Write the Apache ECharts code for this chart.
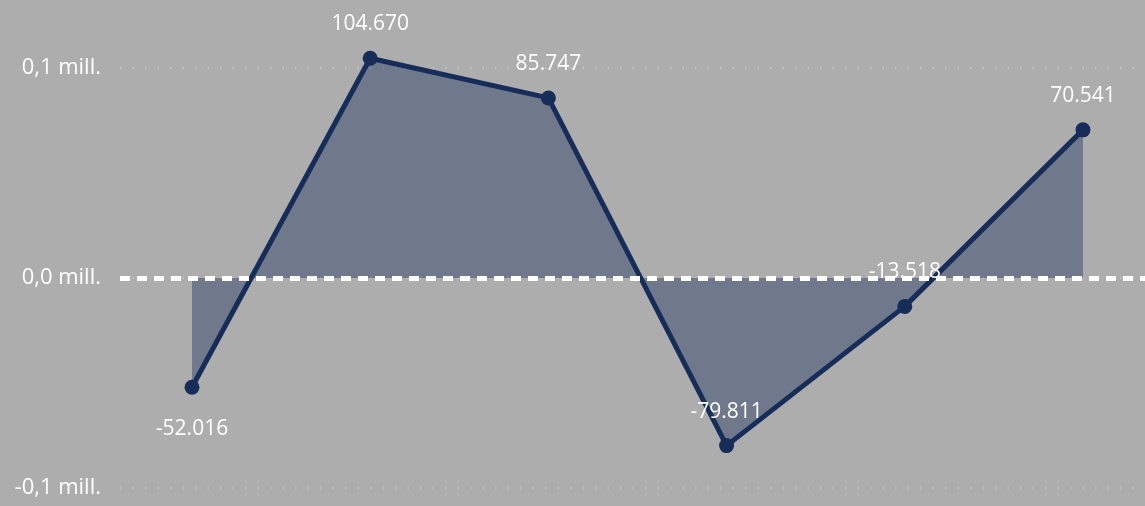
<!DOCTYPE html>
<html><head><meta charset="utf-8">
<script src="https://cdn.jsdelivr.net/npm/echarts@6/dist/echarts.min.js"></script>
<style>html,body{margin:0;padding:0;background:#adadad}#c{width:1145px;height:506px}</style>
</head><body><div id="c"></div>
<script>
const categories = ['P1','P2','P3','P4','P5','P6'];
const values = [-52016, 104670, 85747, -79811, -13518, 70541];
const labelPositions = ['bottom','top','top','top','top','top'];
const yTicks = [-100000, 0, 100000];
const yTickLabels = {'-100000':'-0,1 mill.', '0':'0,0 mill.', '100000':'0,1 mill.'};

function fmt(v){
  const s = Math.abs(v).toString().replace(/\B(?=(\d{3})+(?!\d))/g, '.');
  return (v < 0 ? '-' : '') + s;
}
const font = '"Segoe UI", "Open Sans", "Noto Sans", sans-serif';
const chart = echarts.init(document.getElementById('c'));
chart.setOption({
  backgroundColor: '#adadad',
  animation: false,
  grid: {left: 120, right: 0, top: 68, bottom: 18, containLabel: false},
  xAxis: {type: 'value', min: -0.404, max: 5.348, show: false},
  yAxis: {
    type: 'value', min: yTicks[0], max: yTicks[2], interval: 100000,
    axisLine: {show: false}, axisTick: {show: false},
    axisLabel: {color: '#ffffff', fontSize: 22, fontFamily: font, margin: 19,
      formatter: v => yTickLabels[String(v)] || ''},
    splitLine: {show: true, lineStyle: {color: '#cbcbcb', width: 1.5, type: [1.5, 11]}}
  },
  series: [{
    type: 'line',
    clip: false,
    data: values.map((v, i) => ({value: [i, v], label: {position: labelPositions[i], distance: labelPositions[i] === 'bottom' ? 24 : 16}})),
    symbol: 'circle', symbolSize: 15,
    lineStyle: {color: '#172d59', width: 5},
    itemStyle: {color: '#172d59'},
    areaStyle: {color: '#172d59', opacity: 0.41, origin: 0},
    label: {show: true, color: '#ffffff', fontSize: 21, fontFamily: font,
      formatter: p => fmt(p.value[1])},
    markLine: {
      silent: true, symbol: 'none', z: 10,
      label: {show: false},
      lineStyle: {color: '#ffffff', width: 5, type: [10, 7], opacity: 1},
      data: [{yAxis: 0}]
    }
  }]
});
</script></body></html>
